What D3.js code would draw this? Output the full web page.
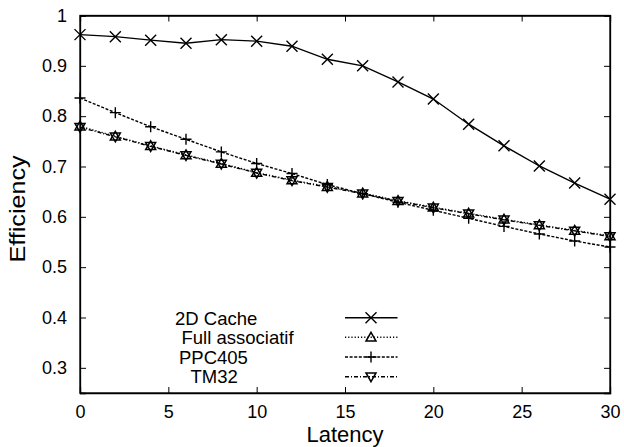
<!DOCTYPE html>
<html><head><meta charset="utf-8">
<script src="https://cdn.jsdelivr.net/npm/d3@7"></script>
<style>
html,body{margin:0;padding:0;background:#fff;}
svg{display:block;font-family:"Liberation Sans",Arial,Helvetica,sans-serif;}
</style></head>
<body>
<svg id="c" width="624" height="447"></svg>
<script>
const latency = [0,2,4,6,8,10,12,14,16,18,20,22,24,26,28,30];
const cache2D = [0.962,0.958,0.951,0.945,0.952,0.949,0.939,0.913,0.900,0.868,0.834,0.784,0.741,0.701,0.667,0.635];
const fullAssoc = [0.780,0.760,0.741,0.723,0.706,0.688,0.673,0.660,0.647,0.632,0.619,0.607,0.595,0.584,0.573,0.562];
const ppc405 = [0.836,0.807,0.779,0.754,0.729,0.706,0.686,0.664,0.646,0.629,0.613,0.597,0.581,0.566,0.552,0.540];
const tm32 = [0.778,0.759,0.740,0.722,0.705,0.687,0.672,0.659,0.646,0.631,0.618,0.606,0.594,0.583,0.572,0.561];
const seriesNames = ["2D Cache","Full associatif","PPC405","TM32"];
const xTicks = [0,5,10,15,20,25,30];
const yTicks = [0.3,0.4,0.5,0.6,0.7,0.8,0.9,1];

const svg = d3.select("#c");
const L=80,R=610,T=15.5,B=393;
const x = d3.scaleLinear().domain([0,30]).range([L,R]);
const y = d3.scaleLinear().domain([0.25,1]).range([B,T]);

const series = [
  {name:seriesNames[0], vals:cache2D, dash:null, marker:"x"},
  {name:seriesNames[1], vals:fullAssoc, dash:"1.2,2", marker:"tu"},
  {name:seriesNames[2], vals:ppc405, dash:"3,1.6", marker:"plus"},
  {name:seriesNames[3], vals:tm32, dash:"4,2,1,2", marker:"td"}
];

const tl=6;
const ax = svg.append("g");
ax.append("g").attr("transform",`translate(0,${B})`).call(d3.axisBottom(x).tickValues(xTicks).tickSize(-tl).tickPadding(12).tickFormat(d3.format("d")));
ax.append("g").attr("transform",`translate(0,${T})`).call(d3.axisTop(x).tickValues(xTicks).tickSize(-tl).tickFormat(""));
ax.append("g").attr("transform",`translate(${L},0)`).call(d3.axisLeft(y).tickValues(yTicks).tickSize(-tl).tickPadding(13).tickFormat(d=>d===1?"1":d3.format(".1f")(d)));
ax.append("g").attr("transform",`translate(${R},0)`).call(d3.axisRight(y).tickValues(yTicks).tickSize(-tl).tickFormat(""));
ax.selectAll(".domain").attr("stroke","#000").attr("stroke-width",1.3);
ax.selectAll(".tick line").attr("stroke","#000").attr("stroke-width",1);
ax.selectAll("text").attr("font-size",18).attr("fill","#000").attr("font-family","Liberation Sans,Arial,sans-serif");

svg.append("rect").attr("x",L).attr("y",T).attr("width",R-L).attr("height",B-T).attr("fill","none").attr("stroke","#000").attr("stroke-width",1.3);

function drawMarker(g, type, cx, cy){
  const s=5.5;
  if(type==="x"){
    g.append("path").attr("d",`M${cx-s},${cy-s}L${cx+s},${cy+s}M${cx-s},${cy+s}L${cx+s},${cy-s}`).attr("stroke","#000").attr("stroke-width",1.4).attr("fill","none");
  } else if(type==="plus"){
    g.append("path").attr("d",`M${cx-s},${cy}L${cx+s},${cy}M${cx},${cy-s}L${cx},${cy+s}`).attr("stroke","#000").attr("stroke-width",1.4).attr("fill","none");
  } else if(type==="tu"){
    const h=5;
    g.append("path").attr("d",`M${cx},${cy-h}L${cx+h},${cy+h*0.75}L${cx-h},${cy+h*0.75}Z`).attr("stroke","#000").attr("stroke-width",1.5).attr("fill","none");
  } else if(type==="td"){
    const h=5;
    g.append("path").attr("d",`M${cx},${cy+h}L${cx+h},${cy-h*0.75}L${cx-h},${cy-h*0.75}Z`).attr("stroke","#000").attr("stroke-width",1.5).attr("fill","none");
  }
}

const line = d3.line().x((d,i)=>x(latency[i])).y(d=>y(d));
series.forEach(s=>{
  const g = svg.append("g");
  g.append("path").datum(s.vals).attr("d",line).attr("fill","none").attr("stroke","#000").attr("stroke-width",1.4).attr("stroke-dasharray",s.dash);
  s.vals.forEach((v,i)=>drawMarker(g,s.marker,x(latency[i]),y(v)));
});

const legText = [[175,325],[181.5,344],[179,363.5],[190.5,383]];
const legY = [317.7,337.3,357,376.7];
series.forEach((s,i)=>{
  const g=svg.append("g");
  g.append("text").attr("x",legText[i][0]).attr("y",legText[i][1]).attr("font-size",18.5).attr("fill","#000").text(s.name);
  g.append("line").attr("x1",345).attr("x2",397.5).attr("y1",legY[i]).attr("y2",legY[i]).attr("stroke","#000").attr("stroke-width",1.4).attr("stroke-dasharray",s.dash);
  drawMarker(g,s.marker,371,legY[i]);
});

svg.append("text").attr("x",345).attr("y",441.5).attr("text-anchor","middle").attr("font-size",22).attr("fill","#000").text("Latency");
svg.append("text").attr("transform","translate(25,209) rotate(-90)").attr("text-anchor","middle").attr("font-size",21.5)
  .attr("textLength",107).attr("lengthAdjust","spacingAndGlyphs").attr("fill","#000").text("Efficiency");
</script>
</body></html>
